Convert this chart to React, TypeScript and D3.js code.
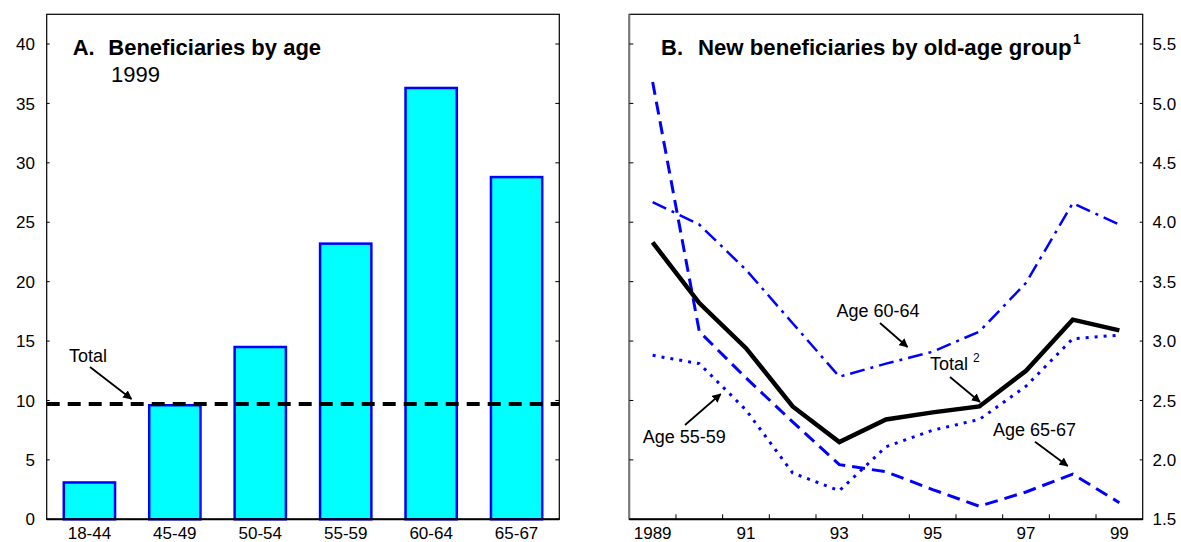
import React from "react";
import * as d3 from "d3";

// ---------- Data ----------
const ageCategories = ["18-44", "45-49", "50-54", "55-59", "60-64", "65-67"];
const beneficiaryShares = [3.1, 9.6, 14.5, 23.2, 36.3, 28.8];
const totalShare = 9.7;
const leftTicks = [0, 5, 10, 15, 20, 25, 30, 35, 40];

const years = [1989, 1990, 1991, 1992, 1993, 1994, 1995, 1996, 1997, 1998, 1999];
const yearLabelYears = [1989, 1991, 1993, 1995, 1997, 1999];
const yearLabels = ["1989", "91", "93", "95", "97", "99"];
const totalNew = [3.83, 3.32, 2.94, 2.45, 2.15, 2.34, 2.4, 2.45, 2.75, 3.18, 3.09];
const age6064 = [4.17, 3.98, 3.6, 3.15, 2.7, 2.81, 2.91, 3.08, 3.49, 4.16, 3.98];
const age6567 = [5.18, 3.08, 2.69, 2.32, 1.96, 1.9, 1.75, 1.61, 1.73, 1.88, 1.64];
const age5559 = [2.88, 2.81, 2.42, 1.89, 1.74, 2.11, 2.25, 2.34, 2.62, 3.02, 3.05];
const rightTicks = [1.5, 2.0, 2.5, 3.0, 3.5, 4.0, 4.5, 5.0, 5.5];

const FONT = "'Liberation Sans', Arial, Helvetica, sans-serif";
const BLUE = "#0000ff";

export default function App() {
  // Panel A geometry
  const aL = 46.7, aR = 559.3, top = 14.3, bottom = 519.3;
  const xA = d3.scaleBand<string>().domain(ageCategories).range([aL, aR]).paddingInner(0.4).paddingOuter(0.2);
  const yA = d3.scaleLinear().domain([0, 42.5]).range([bottom, top]);

  // Panel B geometry
  const bL = 629.3, bR = 1142.7;
  const xB = d3.scaleBand<number>().domain(years).range([bL, bR]).padding(0);
  const yB = d3.scaleLinear().domain([1.5, 5.75]).range([bottom, top]);
  const cx = (yr: number) => (xB(yr) as number) + xB.bandwidth() / 2;

  const line = d3
    .line<number>()
    .x((_, i) => cx(years[i]))
    .y((v) => yB(v));

  const series = [
    { values: age6567, stroke: BLUE, width: 3, dash: "13,7" },
    { values: age5559, stroke: BLUE, width: 3, dash: "3,6" },
    { values: age6064, stroke: BLUE, width: 2.5, dash: "15,6,3,6" },
    { values: totalNew, stroke: "#000", width: 4.5, dash: undefined as string | undefined },
  ];

  const boundaryTicks = years.slice(1).map((yr) => xB(yr) as number);

  const arrow = (x1: number, y1: number, x2: number, y2: number, key: string) => (
    <line key={key} x1={x1} y1={y1} x2={x2} y2={y2} stroke="#000" strokeWidth={1.8} markerEnd="url(#arrowhead)" />
  );

  return (
    <svg
      width={1181}
      height={542}
      style={{ position: "absolute", left: 0, top: 0, background: "#fff" }}
      fontFamily={FONT}
    >
      <defs>
        <marker id="arrowhead" viewBox="0 0 10 10" refX="9" refY="5" markerWidth="5" markerHeight="5" orient="auto" markerUnits="strokeWidth">
          <path d="M0,0 L10,5 L0,10 z" fill="#000" />
        </marker>
      </defs>
      <rect x={0} y={0} width={1181} height={542} fill="#fff" />

      {/* ---------- Panel A ---------- */}
      {ageCategories.map((c, i) => (
        <rect
          key={c}
          x={xA(c)}
          y={yA(beneficiaryShares[i])}
          width={xA.bandwidth()}
          height={yA(0) - yA(beneficiaryShares[i])}
          fill="#00ffff"
          stroke={BLUE}
          strokeWidth={2.5}
        />
      ))}
      <line x1={aL} x2={aR} y1={yA(totalShare)} y2={yA(totalShare)} stroke="#000" strokeWidth={4} strokeDasharray="13,8" />
      <rect x={aL} y={top} width={aR - aL} height={bottom - top} fill="none" stroke="#000" strokeWidth={1.2} />
      <line x1={aL} x2={aR} y1={bottom} y2={bottom} stroke="#000" strokeWidth={2} />
      {leftTicks.map((t) => (
        <g key={"la" + t}>
          <line x1={aL} x2={aL + 3} y1={yA(t)} y2={yA(t)} stroke="#000" strokeWidth={1} />
          <line x1={aR - 4} x2={aR} y1={yA(t)} y2={yA(t)} stroke="#000" strokeWidth={1} />
          <text x={35} y={yA(t)} dy="0.36em" textAnchor="end" fontSize={17}>
            {t}
          </text>
        </g>
      ))}
      {ageCategories.map((c) => (
        <text key={"xa" + c} x={(xA(c) as number) + xA.bandwidth() / 2} y={539} textAnchor="middle" fontSize={17}>
          {c}
        </text>
      ))}
      <text x={72.7} y={55} fontSize={22} fontWeight="bold">A.</text>
      <text x={108.3} y={55} fontSize={22} fontWeight="bold">Beneficiaries by age</text>
      <text x={111} y={81.7} fontSize={22}>1999</text>
      <text x={69} y={362} fontSize={18}>Total</text>
      {arrow(90, 367, 131.5, 399, "a1")}

      {/* ---------- Panel B ---------- */}
      {series.map((s, i) => (
        <path
          key={"s" + i}
          d={line(s.values) as string}
          fill="none"
          stroke={s.stroke}
          strokeWidth={s.width}
          strokeDasharray={s.dash}
          strokeLinejoin="miter"
        />
      ))}
      <rect x={bL} y={top} width={bR - bL} height={bottom - top} fill="none" stroke="#000" strokeWidth={1.2} />
      <line x1={bL} x2={bL} y1={top} y2={bottom} stroke="#777" strokeWidth={2} />
      <line x1={bL} x2={bR} y1={bottom} y2={bottom} stroke="#000" strokeWidth={2} />
      {rightTicks.map((t) => (
        <g key={"rb" + t}>
          <line x1={bL} x2={bL + 4} y1={yB(t)} y2={yB(t)} stroke="#000" strokeWidth={1} />
          <line x1={bR - 3} x2={bR} y1={yB(t)} y2={yB(t)} stroke="#000" strokeWidth={1} />
          <text x={1152.5} y={yB(t)} dy="0.36em" textAnchor="start" fontSize={17}>
            {t.toFixed(1)}
          </text>
        </g>
      ))}
      {boundaryTicks.map((x, i) => (
        <line key={"bt" + i} x1={x} x2={x} y1={bottom} y2={bottom - 5} stroke="#000" strokeWidth={1} />
      ))}
      {yearLabelYears.map((yr, i) => (
        <text key={"yl" + yr} x={cx(yr)} y={539} textAnchor="middle" fontSize={17}>
          {yearLabels[i]}
        </text>
      ))}
      <text x={661} y={55} fontSize={22} fontWeight="bold">B.</text>
      <text x={698} y={55} fontSize={22.2} fontWeight="bold">
        New beneficiaries by old-age group
        <tspan fontSize={14} dx={1.5} dy={-11}>1</tspan>
      </text>

      <text x={836.5} y={316.5} fontSize={18}>Age 60-64</text>
      {arrow(880, 323, 907.5, 347, "b1")}
      <text x={930} y={370} fontSize={18}>
        Total
        <tspan fontSize={12} dx={5} dy={-8}>2</tspan>
      </text>
      {arrow(950, 377, 980, 402, "b2")}
      <text x={642.7} y={442.7} fontSize={18}>Age 55-59</text>
      {arrow(685, 425, 720.7, 394, "b3")}
      <text x={993} y={436} fontSize={18}>Age 65-67</text>
      {arrow(1035, 441.7, 1067.7, 466, "b4")}
    </svg>
  );
}
